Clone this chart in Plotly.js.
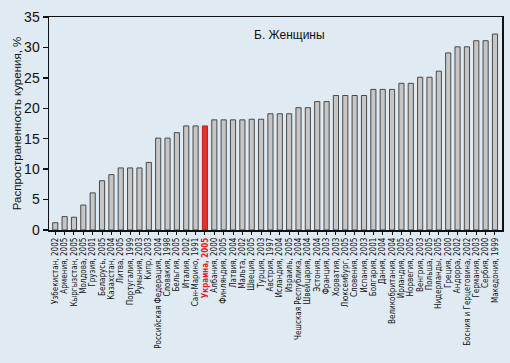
<!DOCTYPE html>
<html>
<head>
<meta charset="utf-8">
<script src="https://cdn.plot.ly/plotly-3.0.1.min.js"></script>
<style>
html,body{margin:0;padding:0;background:#dfeaf3;}
#chart{width:510px;height:363px;}
</style>
</head>
<body>
<div id="chart"></div>
<script>
const countries = [
  "Узбекистан, 2002","Армения, 2005","Кыргызстан, 2005","Молдова, 2005","Грузия, 2001",
  "Беларусь, 2005","Казахстан, 2004","Литва, 2005","Португалия, 1999","Румыния, 2003",
  "Кипр, 2003","Российская Федерация, 2004","Словакия, 1998","Бельгия, 2005","Италия, 2002",
  "Сан-Марино, 1991","Украина, 2005","Албания, 2000","Финляндия, 2005","Латвия, 2004",
  "Мальта, 2002","Швеция, 2005","Турция, 2003","Австрия, 1997","Исландия, 2004",
  "Израиль, 2005","Чешская Республика, 2004","Швейцария, 2004","Эстония, 2004","Франция, 2003",
  "Хорватия, 2003","Люксембург, 2005","Словения, 2005","Испания, 2003","Болгария, 2001",
  "Дания, 2004","Великобритания, 2004","Ирландия, 2005","Норвегия, 2005","Венгрия, 2003",
  "Польша, 2005","Нидерланды, 2005","Греция, 2000","Андорра, 2002","Босния и Герцеговина, 2002",
  "Германия, 2003","Сербия, 2000","Македония, 1999"
];
const smokingWomen = [
  1.2, 2.2, 2.1, 4.1, 6.1,
  8.1, 9.1, 10.2, 10.2, 10.2,
  11.1, 15.1, 15.1, 16.0, 17.1,
  17.1, 17.1, 18.1, 18.1, 18.1,
  18.1, 18.2, 18.2, 19.1, 19.1,
  19.1, 20.1, 20.1, 21.1, 21.1,
  22.1, 22.1, 22.1, 22.1, 23.1,
  23.1, 23.1, 24.1, 24.1, 25.1,
  25.1, 26.1, 29.1, 30.1, 30.1,
  31.1, 31.1, 32.2
];
const highlight = "Украина, 2005";
const yTicks = [0, 5, 10, 15, 20, 25, 30, 35];

const idx = countries.map((c, i) => i);
const fillColors = countries.map(c => c === highlight ? "#e2332a" : "#c6c6c6");
const lineColors = countries.map(c => c === highlight ? "#c0201a" : "#4a4a4a");
const tickText = countries.map(c => c === highlight ? '<span style="color:#e2231a"><b>' + c + '</b></span>' : c);

const trace = {
  type: "bar",
  x: idx,
  y: smokingWomen,
  width: 0.55,
  marker: {color: fillColors, line: {color: lineColors, width: 1}},
  hoverinfo: "skip"
};

const layout = {
  width: 510, height: 363,
  margin: {l: 49, r: 8, t: 17, b: 133},
  paper_bgcolor: "#dfeaf3",
  plot_bgcolor: "#dfeaf3",
  showlegend: false,
  xaxis: {
    range: [-0.67, 47.75],
    tickmode: "array",
    tickvals: idx,
    ticktext: tickText,
    tickangle: -90,
    tickfont: {family: "Liberation Sans Narrow, DejaVu Sans Condensed, Arial, sans-serif", size: 8, color: "#111"},
    ticks: "outside", ticklen: 3, tickwidth: 1, tickcolor: "#111",
    showline: true, linecolor: "#111", linewidth: 1.5,
    mirror: true,
    showgrid: false, zeroline: false, fixedrange: true
  },
  yaxis: {
    range: [0, 35],
    tickmode: "array",
    tickvals: yTicks,
    ticktext: yTicks.map(String),
    tickfont: {family: "Liberation Sans, Arial, sans-serif", size: 14, color: "#111"},
    ticks: "outside", ticklen: 5, tickwidth: 1.5, tickcolor: "#111",
    showline: true, linecolor: "#111", linewidth: 1.5,
    mirror: true,
    showgrid: false, zeroline: false, fixedrange: true,
    title: {text: "Распространенность курения, %", font: {family: "Liberation Sans, Arial, sans-serif", size: 11.5, color: "#111"}, standoff: 0}
  },
  annotations: [{
    text: "Б. Женщины",
    xref: "paper", yref: "paper",
    x: 0.53, y: 0.915, xanchor: "center", yanchor: "middle",
    showarrow: false,
    font: {family: "Liberation Sans, Arial, sans-serif", size: 12, color: "#111"}
  }]
};

Plotly.newPlot("chart", [trace], layout, {staticPlot: true, displayModeBar: false});
</script>
</body>
</html>
